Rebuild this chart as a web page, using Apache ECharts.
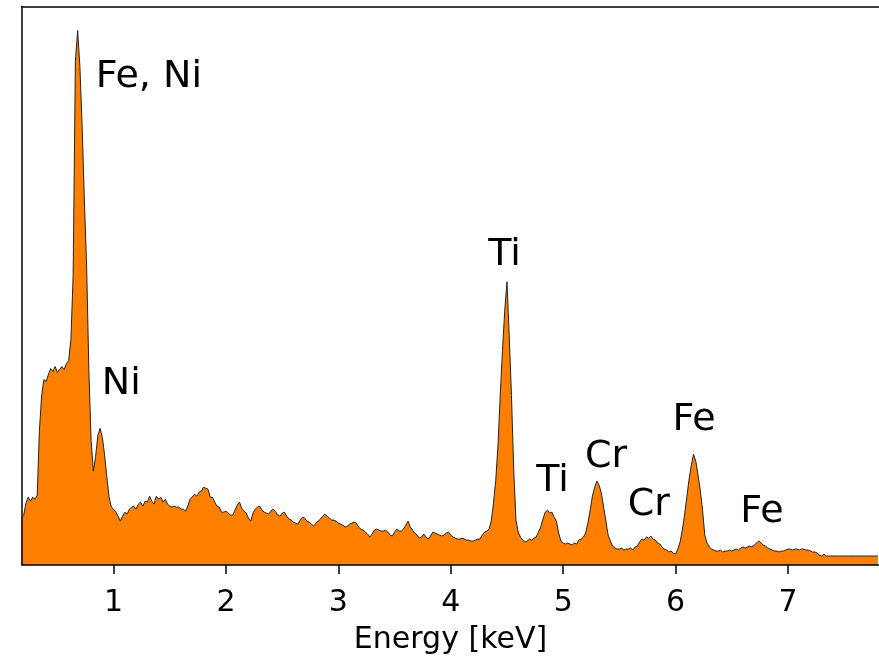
<!DOCTYPE html>
<html>
<head>
<meta charset="utf-8">
<title>EDS spectrum</title>
<script src="https://cdn.jsdelivr.net/npm/echarts@6/dist/echarts.min.js"></script>
<style>
  html, body { margin: 0; padding: 0; background: #ffffff; }
  #chart { width: 879px; height: 660px; }
</style>
</head>
<body>
<div id="chart"></div>
<script>
// spectrum channels (energy in keV, one count per channel)
const energyStart = 0.18
const energyStep = 0.02
const counts = [
  48, 50, 62, 68, 64, 68, 66, 70, 135, 170,
  186, 184, 191, 197, 194, 199, 193, 196, 199, 196,
  202, 205, 226, 290, 505, 536, 500, 440, 365, 300,
  195, 125, 94, 109, 130, 137, 128, 110, 88, 68,
  58, 56, 53, 49, 44, 49, 53, 51, 56, 58,
  59, 56, 61, 63, 59, 64, 63, 69, 64, 61,
  69, 66, 68, 63, 66, 61, 59, 58, 59, 58,
  58, 56, 56, 54, 59, 66, 68, 71, 69, 73,
  74, 78, 77, 76, 68, 68, 63, 59, 58, 53,
  53, 54, 52, 50, 50, 55, 60, 63, 57, 54,
  52, 47, 44, 52, 56, 58, 59, 55, 53, 52,
  51, 54, 56, 54, 50, 49, 52, 53, 49, 46,
  45, 43, 42, 41, 45, 48, 47, 44, 43, 41,
  39, 42, 44, 46, 49, 51, 49, 47, 45, 45,
  44, 42, 41, 40, 38, 39, 41, 42, 43, 42,
  38, 36, 35, 33, 31, 28, 31, 35, 36, 35,
  34, 34, 35, 33, 30, 29, 33, 36, 34, 34,
  36, 40, 44, 38, 35, 32, 30, 27, 28, 31,
  28, 26, 29, 33, 32, 31, 30, 29, 30, 32,
  33, 30, 28, 27, 26, 26, 27, 26, 25, 25,
  24, 24, 25, 26, 26, 30, 33, 34, 36, 44,
  62, 85, 120, 170, 215, 255, 284, 230, 170, 95,
  45, 33, 28, 25, 23, 24, 26, 25, 27, 28,
  33, 38, 46, 53, 55, 52, 53, 48, 44, 32,
  24, 22, 21, 22, 21, 20, 22, 21, 25, 26,
  28, 32, 42, 55, 69, 78, 84, 80, 72, 58,
  44, 30, 24, 19, 17, 16, 16, 17, 15, 16,
  16, 17, 15, 18, 19, 23, 26, 25, 28, 27,
  29, 26, 25, 22, 21, 18, 16, 15, 13, 14,
  12, 11, 16, 23, 35, 50, 68, 86, 100, 111,
  104, 90, 75, 55, 30, 22, 18, 16, 15, 14,
  14, 15, 13, 14, 14, 15, 14, 15, 16, 15,
  17, 18, 17, 18, 19, 18, 20, 22, 24, 22,
  20, 19, 17, 16, 15, 14, 14, 13, 14, 14,
  15, 16, 16, 15, 16, 16, 15, 16, 16, 15,
  15, 14, 13, 13, 12, 10, 9, 11, 9, 9,
  9, 9, 9, 9, 9, 9, 9, 9, 9, 9,
  9, 9, 9, 9, 9, 9, 9, 9, 9, 9,
  9, 9
]
const tickValues = [1, 2, 3, 4, 5, 6, 7]

// peak annotations: text left edge (keV) and text middle (counts)
const peakNames = ['Fe, Ni', 'Ni', 'Ti', 'Ti', 'Cr', 'Cr', 'Fe', 'Fe']
const peakLabelX = [0.84, 0.894, 4.333, 4.759, 5.193, 5.574, 5.973, 6.576]
const peakLabelY = [489, 181, 311, 84, 108, 60, 145, 53]

const font = 'DejaVu Sans'

let spectrum = counts.map((c, i) => [+(energyStart + i * energyStep).toFixed(2), c])
let labels = peakNames.map((n, i) => ({name: n, value: [peakLabelX[i], peakLabelY[i]]}))

let chart = echarts.init(document.getElementById('chart'))
chart.setOption({
  animation: false,
  // plot box runs a little past the right edge of the window, so no right spine
  grid: {
    left: 22,
    top: 6.5,
    width: 860,
    height: 559.5
  },
  xAxis: [
    {
      type: 'value',
      min: 0.185,
      max: 7.81,
      z: 5,
      axisLine: {show: true, lineStyle: {color: '#000', width: 1.5}},
      axisTick: {show: true, customValues: tickValues, length: 9, lineStyle: {color: '#000', width: 1.5}},
      axisLabel: {customValues: tickValues, fontSize: 30, fontFamily: font, color: '#000', margin: 23},
      splitLine: {show: false},
      name: 'Energy [keV]',
      nameLocation: 'middle',
      nameGap: 60,
      nameTextStyle: {fontSize: 30, fontFamily: font, color: '#000'}
    },
    {
      // top spine only
      type: 'value',
      position: 'top',
      min: 0.185,
      max: 7.81,
      axisLine: {show: true, lineStyle: {color: '#000', width: 1.5}},
      axisTick: {show: false},
      axisLabel: {show: false},
      splitLine: {show: false}
    }
  ],
  yAxis: {
    type: 'value',
    min: 0,
    max: 560,
    z: 5,
    axisLine: {show: true, lineStyle: {color: '#000', width: 1.5}},
    axisTick: {show: false},
    axisLabel: {show: false},
    splitLine: {show: false}
  },
  series: [
    {
      type: 'line',
      data: spectrum,
      symbol: 'none',
      silent: true,
      lineStyle: {color: '#222', width: 1},
      areaStyle: {color: '#ff8000', opacity: 1}
    },
    {
      type: 'scatter',
      data: labels,
      symbolSize: 0.1,
      silent: true,
      itemStyle: {color: 'rgba(0,0,0,0)', opacity: 1},
      label: {
        show: true,
        position: 'right',
        distance: 0,
        formatter: '{b}',
        fontSize: 38,
        fontFamily: font,
        color: '#000',
        opacity: 1
      }
    }
  ]
})
</script>
</body>
</html>
